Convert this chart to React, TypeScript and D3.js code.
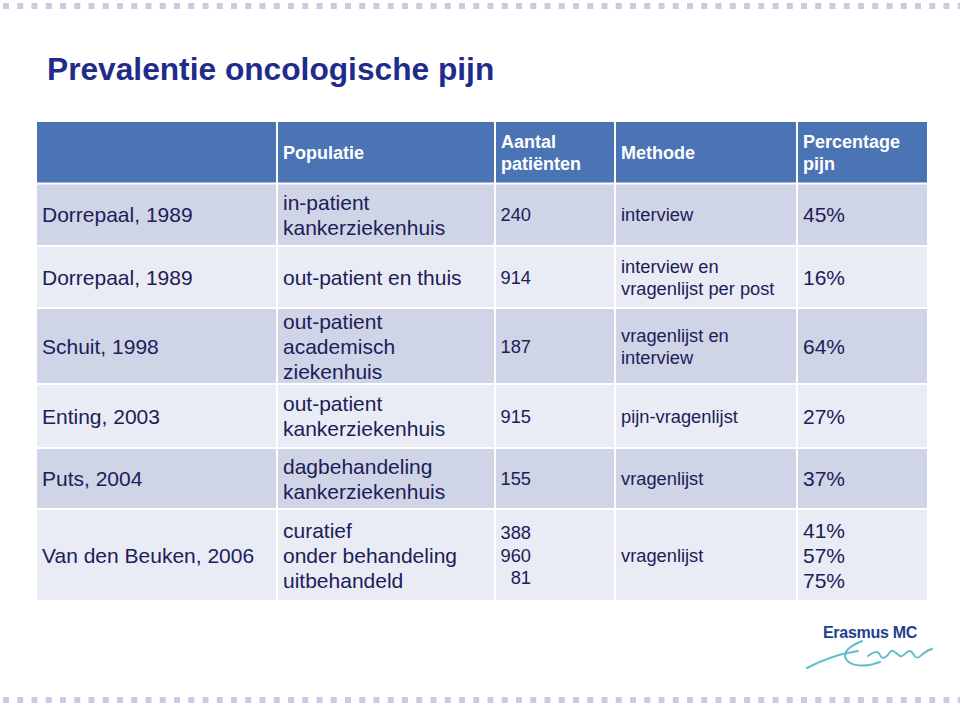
import React from "react";
import * as d3 from "d3";

const headers = ["", "Populatie", "Aantal\npatiënten", "Methode", "Percentage\npijn"];
const studies = ["Dorrepaal, 1989", "Dorrepaal, 1989", "Schuit, 1998", "Enting, 2003", "Puts, 2004", "Van den Beuken, 2006"];
const populations = [
  "in-patient\nkankerziekenhuis",
  "out-patient en thuis",
  "out-patient\nacademisch\nziekenhuis",
  "out-patient\nkankerziekenhuis",
  "dagbehandeling\nkankerziekenhuis",
  "curatief\nonder behandeling\nuitbehandeld",
];
const patients = ["240", "914", "187", "915", "155", "388\n960\n81"];
const methods = ["interview", "interview en\nvragenlijst per post", "vragenlijst en\ninterview", "pijn-vragenlijst", "vragenlijst", "vragenlijst"];
const percentages = ["45%", "16%", "64%", "27%", "37%", "41%\n57%\n75%"];

// layout
const W = 960;
const H = 707;
const colEdges = [37, 277, 495, 615, 797, 927];
const rowEdges = [122, 183.5, 246, 308, 384, 448, 509, 600];
const GAP = 2;
const FONT = "'Liberation Sans', Arial, Helvetica, sans-serif";
const TEXT = "#1c2058";
const colFont = [21, 21, 18.3, 18.3, 21];
const colLH = [25, 25, 22.5, 22, 25];
const colPadX = [5, 5, 5, 5, 5];

function CellText({ text, x, cy, fs, lh, fill, weight, anchor }: any) {
  const lines = text.split("\n");
  const cap = fs * 0.716;
  const y0 = cy - ((lines.length - 1) * lh) / 2 + cap / 2;
  return (
    <text x={x} fontSize={fs} fontFamily={FONT} fill={fill} fontWeight={weight} textAnchor={anchor}>
      {lines.map((l: string, i: number) => (
        <tspan key={i} x={x} y={y0 + i * lh}>
          {l}
        </tspan>
      ))}
    </text>
  );
}

export default function App() {
  const dotsX = d3.range(3, W, 14.25);
  const columns = [studies, populations, patients, methods, percentages];
  const rowFill = (i: number) => (i % 2 === 0 ? "#cfd5e7" : "#e9ecf5");

  return (
    <svg width={W} height={H} style={{ position: "absolute", left: 0, top: 0, background: "#fff" }}>
      <rect width={W} height={H} fill="#fff" />
      {dotsX.map((x, i) => (
        <rect key={"t" + i} x={x} y={3} width={6} height={6} fill="#c8cce0" />
      ))}
      {dotsX.map((x, i) => (
        <rect key={"b" + i} x={x} y={697} width={6} height={6} fill="#c8cce0" />
      ))}

      <text x={47} y={80} fontSize={31.7} fontWeight="bold" fontFamily={FONT} fill="#1f2c8c">
        Prevalentie oncologische pijn
      </text>

      {/* header */}
      {headers.map((h, c) => {
        const x0 = colEdges[c] + (c === 0 ? 0 : GAP / 2);
        const x1 = colEdges[c + 1] - (c === headers.length - 1 ? 0 : GAP / 2);
        const y0 = rowEdges[0];
        const y1 = rowEdges[1] - GAP / 2;
        return (
          <g key={"h" + c}>
            <rect x={x0} y={y0} width={x1 - x0} height={y1 - y0} fill="#4b74b5" />
            <CellText text={h} x={x0 + colPadX[c]} cy={(y0 + y1) / 2} fs={18} lh={22} fill="#fff" weight="bold" />
          </g>
        );
      })}

      {/* body */}
      {studies.map((_, r) => {
        const y0 = rowEdges[r + 1] + GAP / 2;
        const y1 = rowEdges[r + 2] - (r === studies.length - 1 ? 0 : GAP / 2);
        const cy = (y0 + y1) / 2;
        return (
          <g key={"r" + r}>
            {columns.map((col, c) => {
              const x0 = colEdges[c] + (c === 0 ? 0 : GAP / 2);
              const x1 = colEdges[c + 1] - (c === columns.length - 1 ? 0 : GAP / 2);
              const isNum = c === 2;
              return (
                <g key={c}>
                  <rect x={x0} y={y0} width={x1 - x0} height={y1 - y0} fill={rowFill(r)} />
                  <CellText
                    text={col[r]}
                    x={isNum ? x0 + 35 : x0 + colPadX[c]}
                    cy={cy}
                    fs={colFont[c]}
                    lh={colLH[c]}
                    fill={TEXT}
                    weight="normal"
                    anchor={isNum ? "end" : "start"}
                  />
                </g>
              );
            })}
          </g>
        );
      })}

      {/* logo */}
      <text x={823} y={638} fontSize={16} fontWeight="bold" fontFamily={FONT} fill="#1f3f8f" letterSpacing={-0.3}>
        Erasmus MC
      </text>
      <g fill="none" stroke="#5fbfcc" strokeWidth={2} strokeLinecap="round">
        <path d="M807,668 C822,660 838,654 858,651" />
        <path d="M862,641 C850,646 842,652 846,659 C850,666 864,668 880,662" />
        <path d="M868,656 C873,652 878,650 880,655 C882,660 886,658 890,652 C893,648 896,654 900,656 C904,658 906,650 910,651 C914,652 914,660 919,657 C924,654 926,650 932,649" />
      </g>
    </svg>
  );
}
